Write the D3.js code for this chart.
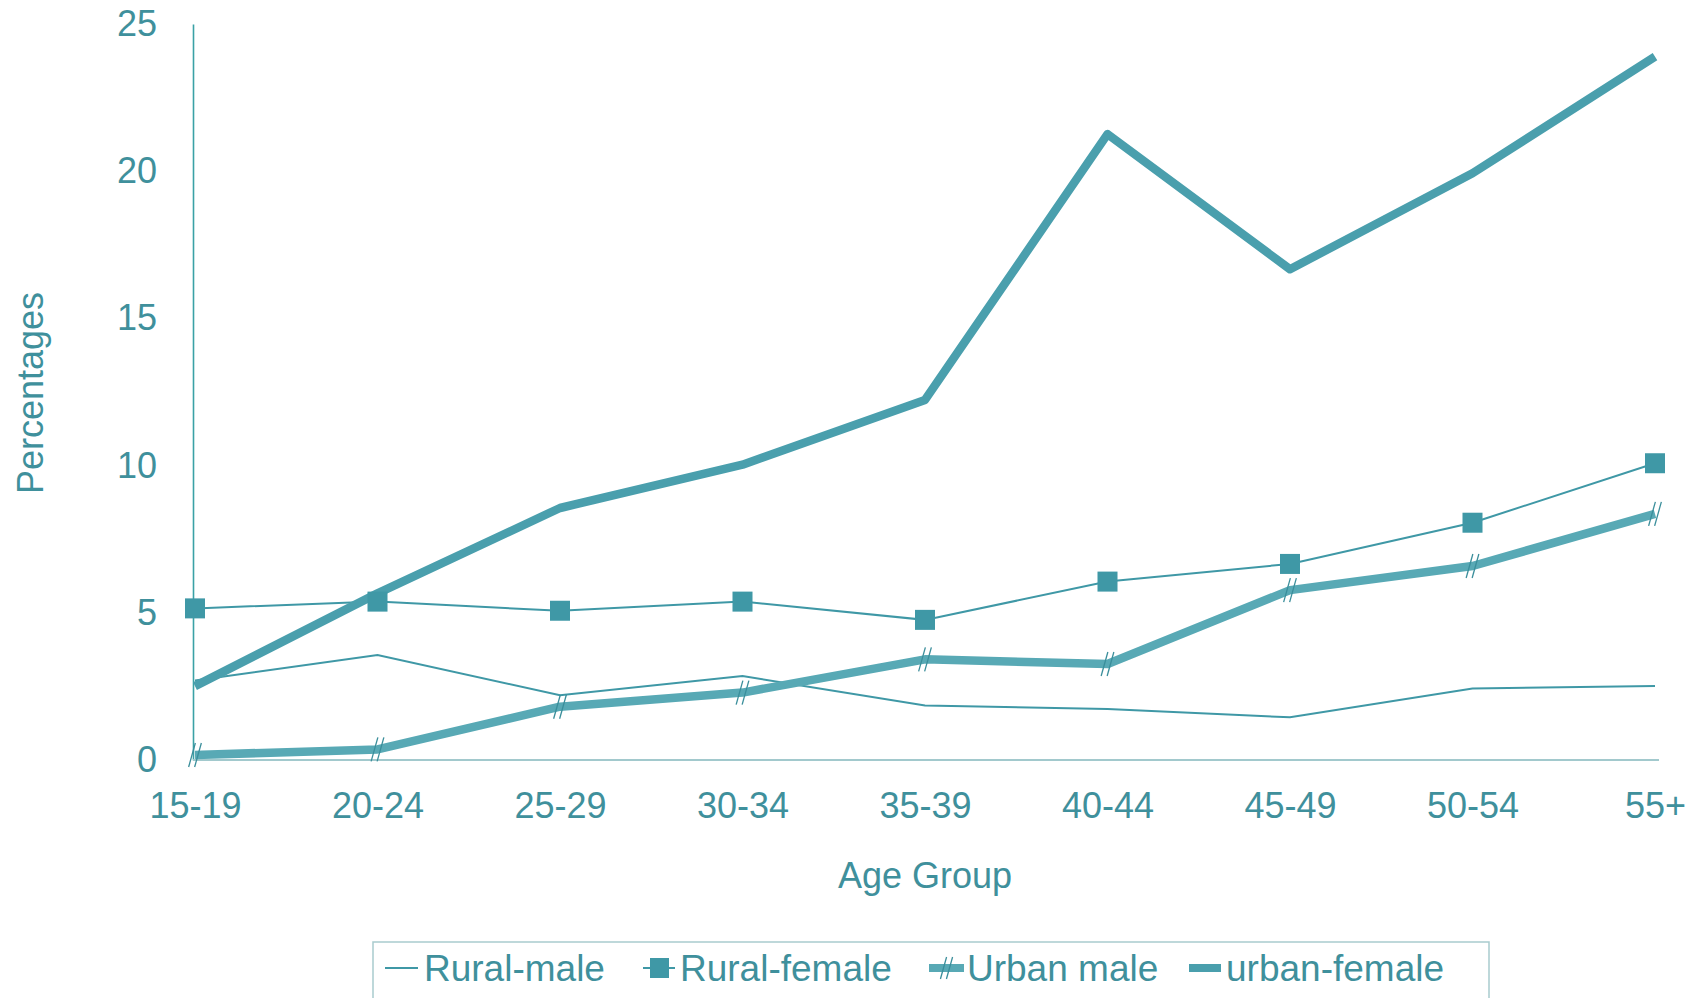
<!DOCTYPE html>
<html>
<head>
<meta charset="utf-8">
<script src="https://cdn.jsdelivr.net/npm/d3@7"></script>
<style>
  html, body { margin: 0; padding: 0; background: #ffffff; }
  svg { display: block; }
  text { font-family: "Liberation Sans", Arial, sans-serif; fill: #3f909c; }
</style>
</head>
<body>
<svg id="chart" width="1702" height="998"></svg>
<script>
const categories = ["15-19", "20-24", "25-29", "30-34", "35-39", "40-44", "45-49", "50-54", "55+"];
const ruralMale   = [2.7, 3.57, 2.2, 2.85, 1.85, 1.73, 1.45, 2.43, 2.51];
const ruralFemale = [5.15, 5.38, 5.07, 5.38, 4.76, 6.06, 6.66, 8.06, 10.08];
const urbanMale   = [0.17, 0.36, 1.81, 2.29, 3.42, 3.26, 5.77, 6.59, 8.36];
const urbanFemale = [2.51, 5.66, 8.56, 10.03, 12.23, 21.26, 16.67, 19.93, 23.89];
const yTicks = [0, 5, 10, 15, 20, 25];
const seriesNames = ["Rural-male", "Rural-female", "Urban male", "urban-female"];
const xTitle = "Age Group";
const yTitle = "Percentages";

const teal = "#3f98a6";
const tealLight = "#58a9b5";
const tealDark = "#3a8e9b";

const svg = d3.select("#chart");
const x = d3.scalePoint().domain(categories).range([195, 1655]);
const y = d3.scaleLinear().domain([0, 25]).range([760, 24]);

// Y axis
const yAxis = svg.append("g")
  .attr("transform", `translate(${x(categories[0]) - 2},0)`)
  .call(d3.axisLeft(y).tickValues(yTicks).tickSize(0).tickSizeOuter(0).tickPadding(36).tickFormat(d3.format("d")));
yAxis.select(".domain").attr("stroke", "#3aa1a6").attr("stroke-width", 1.6);
yAxis.selectAll("text").attr("font-size", 36).attr("fill", "#3f909c")
  .attr("font-family", "'Liberation Sans', Arial, sans-serif");

// X axis
const xAxis = svg.append("g")
  .attr("transform", `translate(0,${y(0)})`)
  .call(d3.axisBottom(x).tickSize(0).tickSizeOuter(0).tickPadding(32));
xAxis.select(".domain").attr("stroke", "#a2c9cd").attr("stroke-width", 2)
  .attr("d", `M${x(categories[0]) - 2},0H${x(categories[categories.length-1]) + 4}`);
xAxis.selectAll("text").attr("font-size", 36).attr("fill", "#3f909c")
  .attr("font-family", "'Liberation Sans', Arial, sans-serif");

// Titles
svg.append("text").attr("x", 925).attr("y", 888).attr("text-anchor", "middle")
  .attr("font-size", 36).text(xTitle);
svg.append("text").attr("transform", "translate(43,393) rotate(-90)").attr("text-anchor", "middle")
  .attr("font-size", 36).text(yTitle);

const line = d3.line().x((d, i) => x(categories[i])).y(d => y(d));

// Rural-male
svg.append("path").datum(ruralMale).attr("d", line)
  .attr("fill", "none").attr("stroke", teal).attr("stroke-width", 2);

// Rural-female
svg.append("path").datum(ruralFemale).attr("d", line)
  .attr("fill", "none").attr("stroke", teal).attr("stroke-width", 2);

// Urban-female (thick)
svg.append("path").datum(urbanFemale).attr("d", line)
  .attr("fill", "none").attr("stroke", "#4a9fad").attr("stroke-width", 8.5).attr("stroke-linejoin", "round");

// Urban male (thick, lighter)
svg.append("path").datum(urbanMale).attr("d", line)
  .attr("fill", "none").attr("stroke", tealLight).attr("stroke-width", 8.5).attr("stroke-linejoin", "round");

// Urban male markers (# style)
function hashMarker(g, cx, cy, s) {
  const h = s / 2;
  [-3, 3].forEach(off => {
    g.append("line")
      .attr("x1", cx + off - h * 0.28).attr("y1", cy + h)
      .attr("x2", cx + off + h * 0.28).attr("y2", cy - h)
      .attr("stroke", tealDark).attr("stroke-width", 1.3);
  });
}
const umG = svg.append("g");
urbanMale.forEach((v, i) => hashMarker(umG, x(categories[i]), y(v), 24));

// Rural-female square markers
svg.append("g").selectAll("rect").data(ruralFemale).join("rect")
  .attr("x", (d, i) => x(categories[i]) - 10)
  .attr("y", d => y(d) - 10)
  .attr("width", 20).attr("height", 20)
  .attr("fill", "#3f98a6");

// Legend
const lg = svg.append("g");
lg.append("rect").attr("x", 373).attr("y", 942).attr("width", 1116).attr("height", 70)
  .attr("fill", "none").attr("stroke", "#a9cbce").attr("stroke-width", 1.5);
const ly = 968;
const legendItems = [
  { name: seriesNames[0], x1: 385, x2: 418, tx: 424 },
  { name: seriesNames[1], x1: 643, x2: 675, tx: 680 },
  { name: seriesNames[2], x1: 929, x2: 964, tx: 967 },
  { name: seriesNames[3], x1: 1189, x2: 1221, tx: 1226 }
];
// Rural-male symbol
lg.append("line").attr("x1", legendItems[0].x1).attr("x2", legendItems[0].x2)
  .attr("y1", ly).attr("y2", ly).attr("stroke", teal).attr("stroke-width", 2);
// Rural-female symbol
lg.append("line").attr("x1", legendItems[1].x1).attr("x2", legendItems[1].x2)
  .attr("y1", ly).attr("y2", ly).attr("stroke", teal).attr("stroke-width", 2);
lg.append("rect").attr("x", (legendItems[1].x1 + legendItems[1].x2) / 2 - 9).attr("y", ly - 10)
  .attr("width", 19).attr("height", 20).attr("fill", "#3f98a6");
// Urban male symbol
lg.append("line").attr("x1", legendItems[2].x1).attr("x2", legendItems[2].x2)
  .attr("y1", ly).attr("y2", ly).attr("stroke", tealLight).attr("stroke-width", 8);
hashMarker(lg, (legendItems[2].x1 + legendItems[2].x2) / 2, ly, 22);
// urban-female symbol
lg.append("line").attr("x1", legendItems[3].x1).attr("x2", legendItems[3].x2)
  .attr("y1", ly).attr("y2", ly).attr("stroke", "#4a9fad").attr("stroke-width", 8);

lg.selectAll("text.lt").data(legendItems).join("text").attr("class", "lt")
  .attr("x", d => d.tx).attr("y", ly + 13).attr("font-size", 37).text(d => d.name);
</script>
</body>
</html>
